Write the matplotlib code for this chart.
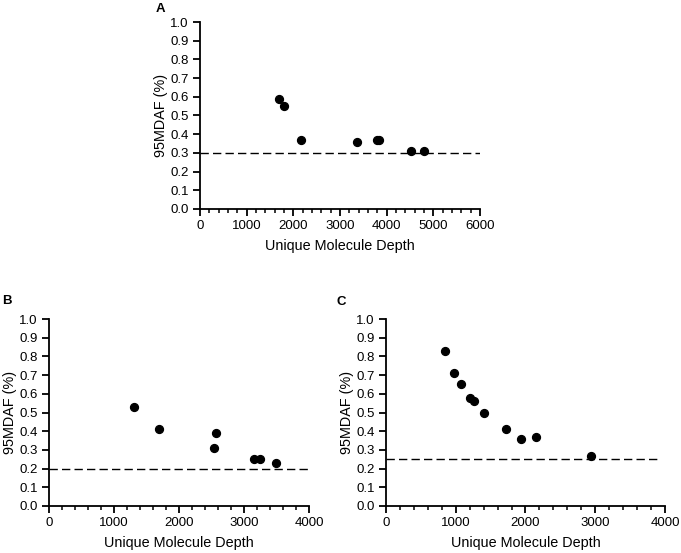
import numpy as np
import matplotlib.pyplot as plt
from matplotlib.ticker import MultipleLocator

plt.rcParams['font.family'] = ['Liberation Sans', 'DejaVu Sans']

# Panel A
a_depth = [1700, 1800, 2165, 3370, 3800, 3845, 4530, 4800]
a_mdaf = [0.59, 0.55, 0.37, 0.36, 0.37, 0.37, 0.31, 0.31]
a_limit = 0.30
a_xmax = 6000

# Panel B
b_depth = [1300, 1685, 2545, 2575, 3160, 3240, 3500]
b_mdaf = [0.53, 0.41, 0.31, 0.39, 0.25, 0.25, 0.23]
b_limit = 0.20
b_xmax = 4000

# Panel C
c_depth = [840, 980, 1075, 1210, 1260, 1400, 1715, 1940, 2155, 2940]
c_mdaf = [0.83, 0.71, 0.65, 0.58, 0.56, 0.50, 0.41, 0.36, 0.37, 0.27]
c_limit = 0.25
c_line_end = 3900
c_xmax = 4000

fig = plt.figure(figsize=(6.81, 5.53), dpi=100)


def panel(rect, depth, mdaf, limit, line_end, xmax):
    ax = fig.add_axes(rect)
    ax.scatter(depth, mdaf, s=32, color='black', zorder=3, clip_on=False)
    ax.plot([0, line_end], [limit, limit], color='black', lw=1.0,
            dashes=(6, 3), zorder=2)
    ax.set_xlim(0, xmax)
    ax.set_ylim(0, 1.0)
    ax.xaxis.set_major_locator(MultipleLocator(1000))
    ax.xaxis.set_minor_locator(MultipleLocator(200))
    ax.yaxis.set_major_locator(MultipleLocator(0.1))
    ax.yaxis.set_major_formatter(plt.FormatStrFormatter('%.1f'))
    for s in ['top', 'right']:
        ax.spines[s].set_visible(False)
    for s in ['left', 'bottom']:
        ax.spines[s].set_linewidth(1.3)
    ax.tick_params(which='major', length=5, width=1.3, labelsize=9.5, pad=3)
    ax.tick_params(which='minor', length=3, width=1.1)
    ax.set_xlabel('Unique Molecule Depth', fontsize=10.4, labelpad=5)
    ax.set_ylabel('95MDAF (%)', fontsize=10.4, labelpad=2)
    return ax


panel([0.2937, 0.6221, 0.4111, 0.3381], a_depth, a_mdaf, a_limit, a_xmax, a_xmax)
panel([0.0720, 0.0850, 0.3817, 0.3381], b_depth, b_mdaf, b_limit, b_xmax, b_xmax)
panel([0.5668, 0.0850, 0.4097, 0.3381], c_depth, c_mdaf, c_limit, c_line_end, c_xmax)

# panel letters
for letter, px, py in [('A', 160, 8.5), ('B', 7, 301.5), ('C', 341, 302)]:
    fig.text(px / 681, 1 - py / 553, letter, fontsize=9.5, fontweight='bold',
             ha='center', va='center')

fig.savefig('out.png', dpi=100)
